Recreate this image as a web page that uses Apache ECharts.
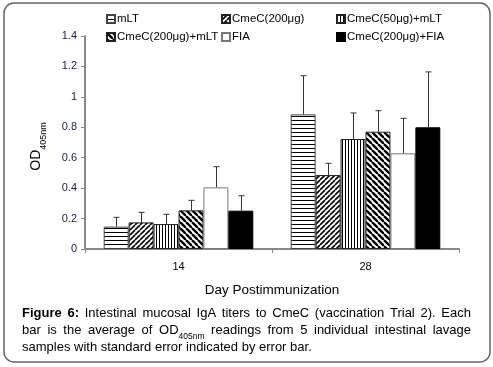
<!DOCTYPE html>
<html><head><meta charset="utf-8">
<script src="https://cdn.jsdelivr.net/npm/echarts@6/dist/echarts.min.js"></script>
<style>html,body{margin:0;padding:0;background:#fff}#c{width:493px;height:367px}</style>
</head><body><div id="c"></div>
<script>
const categories = ['14', '28'];
const seriesNames = ['mLT', 'CmeC(200μg)', 'CmeC(50μg)+mLT', 'CmeC(200μg)+mLT', 'FIA', 'CmeC(200μg)+FIA'];
const mLT = [0.147, 0.885];
const cmeC200 = [0.175, 0.486];
const cmeC50mLT = [0.164, 0.723];
const cmeC200mLT = [0.254, 0.771];
const fia = [0.405, 0.629];
const cmeC200FIA = [0.252, 0.800];
const seMLT = [0.061, 0.254];
const seCmeC200 = [0.066, 0.077];
const seCmeC50mLT = [0.064, 0.171];
const seCmeC200mLT = [0.066, 0.138];
const seFIA = [0.136, 0.230];
const seCmeC200FIA = [0.098, 0.364];
const yTicks = [0, 0.2, 0.4, 0.6, 0.8, 1, 1.2, 1.4];

const means = [mLT, cmeC200, cmeC50mLT, cmeC200mLT, fia, cmeC200FIA];
const ses = [seMLT, seCmeC200, seCmeC50mLT, seCmeC200mLT, seFIA, seCmeC200FIA];

function pat(kind) {
  const s = kind === 'h' ? 4 : kind === 'v' ? 3 : kind === 'f' ? 5 : 6;
  const c = document.createElement('canvas');
  c.width = s; c.height = s;
  const g = c.getContext('2d');
  g.fillStyle = '#fff'; g.fillRect(0, 0, s, s);
  g.fillStyle = '#000'; g.strokeStyle = '#000';
  if (kind === 'h') { g.fillRect(0, 0, s, 1); }
  else if (kind === 'v') { g.fillRect(0, 0, 1, s); }
  else if (kind === 'f') {
    g.lineWidth = 1.6;
    for (let k = -1; k <= 1; k++) { g.beginPath(); g.moveTo(k * s, s); g.lineTo(k * s + s, 0); g.stroke(); }
  } else if (kind === 'b') {
    g.lineWidth = 2.4;
    for (let k = -1; k <= 1; k++) { g.beginPath(); g.moveTo(k * s, 0); g.lineTo(k * s + s, s); g.stroke(); }
  }
  return { image: c, repeat: 'repeat' };
}
const fills = [pat('h'), pat('f'), pat('v'), pat('b'), '#fff', '#000'];
const borders = ['#444', '#222', '#222', '#222', '#777', '#000'];

const FONT = '"Liberation Sans", Arial, sans-serif';
const chart = echarts.init(document.getElementById('c'));

const series = [];
seriesNames.forEach((n, i) => {
  series.push({
    name: n, type: 'bar', data: means[i], barGap: 0, barCategoryGap: '20%',
    itemStyle: { color: fills[i], borderColor: borders[i], borderWidth: 1 },
    emphasis: { disabled: true }
  });
});
seriesNames.forEach((n, i) => {
  series.push({
    name: 'err' + i, type: 'custom', z: 5,
    data: categories.map((c, j) => [j, means[i][j], ses[i][j]]),
    encode: { x: 0, y: 1 },
    renderItem: function (params, api) {
      const ci = api.value(0), m = api.value(1), e = api.value(2);
      const cw = api.size([1, 0])[0];
      const bw = cw * 0.8 / 6;
      const off = (i - 2.5) * bw;
      const p1 = api.coord([ci, m]);
      const p2 = api.coord([ci, m + e]);
      const x = Math.round(p1[0] + off) + 0.5;
      return {
        type: 'group', children: [
          { type: 'line', shape: { x1: x, y1: p1[1], x2: x, y2: p2[1] }, style: { stroke: '#333', lineWidth: 1 } },
          { type: 'line', shape: { x1: x - 3, y1: p2[1], x2: x + 3, y2: p2[1] }, style: { stroke: '#333', lineWidth: 1 } }
        ]
      };
    }
  });
});

const legendPos = [[106, 13], [221, 13], [336, 13], [106, 31], [221, 31], [336, 31]];
const legends = seriesNames.map((n, i) => ({
  data: [n], left: legendPos[i][0], top: legendPos[i][1], itemWidth: 8, itemHeight: 8, itemGap: 0,
  padding: 0, selectedMode: false,
  textStyle: { fontSize: 11.5, fontFamily: FONT, color: '#000', padding: [0, 0, 0, -3] },
  icon: 'rect'
}));

// caption with justification
const mc = document.createElement('canvas').getContext('2d');
function w(text, size, bold) { mc.font = (bold ? 'bold ' : '') + size + 'px ' + FONT; return mc.measureText(text).width; }
const CS = 13;
const graphics = [];
function line(words, y, x0, x1, justify) {
  const widths = words.map(wd => wd.sub ? w(wd.t, CS) + w(wd.sub, 8.5) : w(wd.t, CS, wd.b));
  const sum = widths.reduce((a, b) => a + b, 0);
  const gap = justify ? (x1 - x0 - sum) / (words.length - 1) : w(' ', CS);
  let x = x0;
  words.forEach((wd, k) => {
    if (wd.sub) {
      graphics.push({ type: 'text', x: x, y: y, style: {
        text: '{a|' + wd.t + '}{b|' + wd.sub + '}', verticalAlign: 'middle',
        rich: { a: { fontSize: CS, fontFamily: FONT, fill: '#000', lineHeight: 15 },
                b: { fontSize: 8.5, fontFamily: FONT, fill: '#000', lineHeight: 7, verticalAlign: 'bottom', padding: [0, 0, -4, 0] } } } });
    } else {
      graphics.push({ type: 'text', x: x, y: y, style: { text: wd.t, font: (wd.b ? 'bold ' : '') + CS + 'px ' + FONT, fill: '#000', verticalAlign: 'middle' } });
    }
    x += widths[k] + gap;
  });
}
const L1 = [{ t: 'Figure', b: 1 }, { t: '6:', b: 1 }].concat('Intestinal mucosal IgA titers to CmeC (vaccination Trial 2). Each'.split(' ').map(t => ({ t })));
const L2 = 'bar is the average of'.split(' ').map(t => ({ t })).concat([{ t: 'OD', sub: '405nm' }]).concat('readings from 5 individual intestinal lavage'.split(' ').map(t => ({ t })));
const L3 = 'samples with standard error indicated by error bar.'.split(' ').map(t => ({ t }));
line(L1, 313, 22, 471, true);
line(L2, 330, 22, 471, true);
line(L3, 347, 22, 471, false);

graphics.push({ type: 'rect', shape: { x: 4, y: 3, width: 486, height: 359, r: 10 }, style: { fill: 'none', stroke: '#666', lineWidth: 1.5 }, z: -1 });

chart.setOption({
  animation: false,
  legend: legends,
  grid: { left: 85, right: 34, top: 36, bottom: 118, containLabel: false },
  xAxis: {
    type: 'category', data: categories,
    axisLine: { lineStyle: { color: '#888', width: 2 } },
    axisTick: { show: true, length: 4, lineStyle: { color: '#888' } },
    axisLabel: { fontSize: 11, fontFamily: FONT, color: '#000', margin: 12 },
    name: 'Day Postimmunization', nameLocation: 'middle', nameGap: 34,
    nameTextStyle: { fontSize: 13.5, fontFamily: FONT, color: '#000' }
  },
  yAxis: {
    type: 'value', min: 0, max: 1.4, interval: 0.2,
    axisLine: { show: true, lineStyle: { color: '#888', width: 2 } },
    axisTick: { show: true, length: 4, lineStyle: { color: '#888' } },
    splitLine: { show: false },
    axisLabel: { fontSize: 11, fontFamily: FONT, color: '#1a1f3f', margin: 8,
      formatter: v => { const t = yTicks.find(x => Math.abs(x - v) < 1e-6); return String(t !== undefined ? t : v); } },
    name: '{a|OD}{b|405nm}', nameLocation: 'middle', nameGap: 41, nameRotate: 90,
    nameTextStyle: { padding: [0, 8, 0, 0], rich: {
      a: { fontSize: 14, fontFamily: FONT, color: '#000', lineHeight: 16 },
      b: { fontSize: 9, fontFamily: FONT, color: '#000', lineHeight: 8, verticalAlign: 'bottom', padding: [0, 0, -4, 0] } } }
  },
  series: series,
  graphic: graphics
});
</script></body></html>
